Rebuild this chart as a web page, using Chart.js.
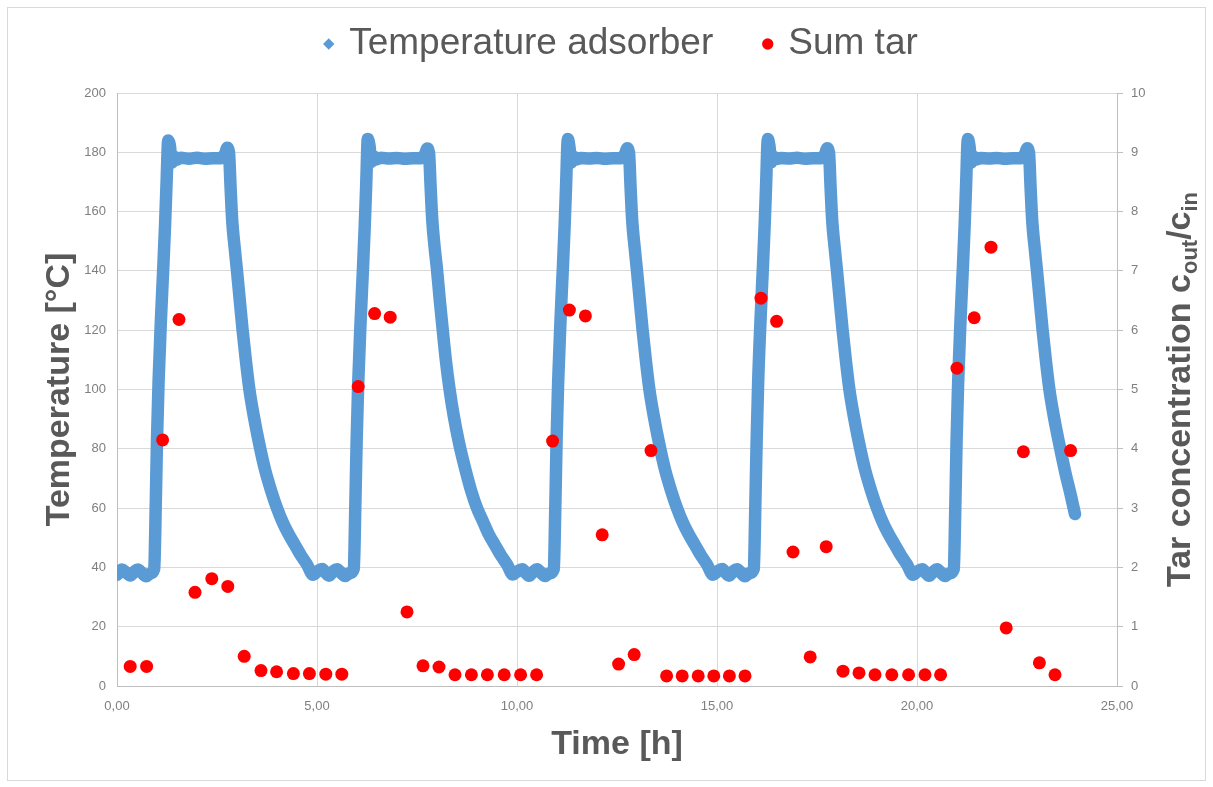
<!DOCTYPE html>
<html>
<head>
<meta charset="utf-8">
<script src="https://cdn.jsdelivr.net/npm/chart.js@4.4.1/dist/chart.umd.min.js"></script>
<style>
  html, body { margin: 0; padding: 0; background: #ffffff; }
  canvas { display: block; }
</style>
</head>
<body>
<canvas id="chart" width="1213" height="787"></canvas>
<script>
// ---------- DATA ----------
const xTickValues = [0, 5, 10, 15, 20, 25];

// Temperature adsorber [°C] as [time h, temperature]
const tempCycle1 = [[0.00,37.5],[0.12,39.3],[0.22,38.4],[0.33,37.3],[0.43,38.5],[0.52,39.3],[0.62,38.2],[0.73,37.0],[0.84,38.0],[0.93,39.5],[0.97,62],[1.00,83],[1.04,103],[1.10,124],[1.16,142],[1.20,155],[1.24,170],[1.28,184],[1.32,182.5],[1.37,176.5],[1.43,178.5],[1.50,177.5],[1.60,178.2],[1.80,177.8],[2.00,178.2],[2.20,177.8],[2.40,178.0],[2.60,178.0],[2.70,179.5],[2.76,181.5],[2.80,180.0],[2.84,168],[2.88,157],[2.94,148],[3.00,140],[3.07,130],[3.14,120],[3.22,110],[3.31,100],[3.42,91],[3.55,82],[3.70,73],[3.85,66],[4.00,60],[4.15,55],[4.30,51],[4.45,47.5],[4.60,44],[4.75,41],[4.90,37.5]];
const tempCycle2 = [[5.00,38.6],[5.13,39.5],[5.21,38.3],[5.30,37.2],[5.40,38.6],[5.50,39.4],[5.60,38.2],[5.70,37.1],[5.82,38.1],[5.92,39.6],[5.96,62],[5.99,82],[6.03,102],[6.09,123],[6.15,141],[6.19,154],[6.23,169],[6.27,184.5],[6.31,182.5],[6.36,176.8],[6.42,178.6],[6.49,177.6],[6.60,178.2],[6.80,177.9],[7.00,178.1],[7.20,177.8],[7.40,178.0],[7.60,178.0],[7.70,179.4],[7.76,181.3],[7.80,180.0],[7.84,168.5],[7.88,157.5],[7.94,148],[8.00,140.5],[8.07,130],[8.14,120.5],[8.22,110],[8.31,100.5],[8.42,91],[8.55,82],[8.70,73.5],[8.85,66],[9.00,60],[9.15,55.5],[9.30,51],[9.45,47.5],[9.60,44],[9.75,41],[9.90,37.6]];
const tempCycle3 = [[10.00,38.6],[10.13,39.4],[10.21,38.3],[10.30,37.2],[10.40,38.5],[10.50,39.4],[10.60,38.2],[10.70,37.1],[10.82,38.0],[10.92,39.5],[10.96,62],[10.99,83],[11.03,103],[11.09,124],[11.15,142],[11.19,155],[11.23,170],[11.27,184.5],[11.31,182],[11.36,176.6],[11.42,178.5],[11.49,177.6],[11.60,178.1],[11.80,177.9],[12.00,178.1],[12.20,177.8],[12.40,178.0],[12.60,178.0],[12.70,179.5],[12.76,181.4],[12.80,180.0],[12.84,168],[12.88,157],[12.94,148],[13.00,140],[13.07,130],[13.14,120],[13.22,110],[13.31,100],[13.42,91],[13.55,82],[13.70,73],[13.85,66],[14.00,60],[14.15,55],[14.30,51],[14.45,47.5],[14.60,44],[14.75,41],[14.90,37.5]];
const tempCycle4 = [[15.00,38.5],[15.13,39.5],[15.21,38.3],[15.30,37.2],[15.40,38.6],[15.50,39.4],[15.60,38.2],[15.70,37.0],[15.82,38.1],[15.92,39.5],[15.96,62],[15.99,82],[16.03,103],[16.09,124],[16.15,142],[16.19,155],[16.23,170],[16.27,184.5],[16.31,182.3],[16.36,176.7],[16.42,178.5],[16.49,177.7],[16.60,178.1],[16.80,177.9],[17.00,178.2],[17.20,177.8],[17.40,178.0],[17.60,178.0],[17.70,179.4],[17.76,181.4],[17.80,180.0],[17.84,168],[17.88,157],[17.94,148],[18.00,140],[18.07,130],[18.14,120],[18.22,110],[18.31,100],[18.42,91],[18.55,82],[18.70,73],[18.85,66],[19.00,60],[19.15,55],[19.30,51],[19.45,47.5],[19.60,44],[19.75,41],[19.90,37.5]];
const tempCycle5 = [[20.00,38.6],[20.13,39.4],[20.21,38.3],[20.30,37.2],[20.40,38.5],[20.50,39.4],[20.60,38.2],[20.70,37.1],[20.82,38.0],[20.92,39.5],[20.96,62],[20.99,83],[21.03,103],[21.09,124],[21.15,142],[21.19,155],[21.23,170],[21.27,184.5],[21.31,182.4],[21.36,176.6],[21.42,178.5],[21.49,177.6],[21.60,178.1],[21.80,177.9],[22.00,178.1],[22.20,177.8],[22.40,178.0],[22.60,178.0],[22.70,179.5],[22.76,181.4],[22.80,180.0],[22.84,168],[22.88,157],[22.94,148],[23.00,140],[23.07,130],[23.14,120],[23.22,110],[23.31,100],[23.42,91],[23.55,82],[23.70,72.5],[23.85,64],[23.95,58]];

// Sum tar, c_out/c_in (right axis)
const tarHours = [0.33,0.74,1.14,1.55,1.95,2.37,2.77,3.18,3.60,3.99,4.41,4.81,5.22,5.62,6.03,6.44,6.83,7.25,7.65,8.05,8.45,8.86,9.26,9.68,10.09,10.49,10.89,11.31,11.71,12.13,12.54,12.93,13.35,13.74,14.13,14.53,14.92,15.31,15.70,16.10,16.49,16.90,17.33,17.73,18.15,18.55,18.95,19.37,19.79,20.20,20.59,21.00,21.43,21.85,22.23,22.66,23.06,23.45,23.84];
const tarRatio = [0.33,0.33,4.15,6.18,1.58,1.81,1.68,0.50,0.26,0.24,0.21,0.21,0.20,0.20,5.05,6.28,6.22,1.25,0.34,0.32,0.19,0.19,0.19,0.19,0.19,0.19,4.13,6.34,6.24,2.55,0.37,0.53,3.97,0.17,0.17,0.17,0.17,0.17,0.17,6.54,6.15,2.26,0.49,2.35,0.25,0.22,0.19,0.19,0.19,0.19,0.19,5.36,6.21,7.40,0.98,3.95,0.39,0.19,3.97];

const seriesNames = ['Temperature adsorber', 'Sum tar'];
const axisTitles = { x: 'Time [h]', y: 'Temperature [°C]', y2Main: 'Tar concentration c', y2Sub1: 'out', y2Mid: '/c', y2Sub2: 'in' };

// ---------- BUILD ----------
const tempPoints = [].concat(tempCycle1, tempCycle2, tempCycle3, tempCycle4, tempCycle5).map(p => ({x: p[0], y: p[1]}));
const tarPoints = tarHours.map((h, i) => ({x: h, y: tarRatio[i]}));

const FONT = "'Liberation Sans', Arial, sans-serif";
const TEXT_DARK = '#595959';
const TICK_COL = '#7f7f7f';

const bgAndFrame = {
  id: 'bgAndFrame',
  beforeDraw(chart) {
    const c = chart.ctx;
    c.save();
    c.fillStyle = '#ffffff';
    c.fillRect(0, 0, chart.width, chart.height);
    c.strokeStyle = '#d9d9d9';
    c.lineWidth = 1;
    c.strokeRect(7.5, 7.5, 1198, 773);
    c.restore();
  }
};

const rightTitle = {
  id: 'rightTitle',
  afterDraw(chart) {
    const c = chart.ctx;
    const area = chart.chartArea;
    const cy = (area.top + area.bottom) / 2;
    const cx = 1178;
    const big = "bold 34px " + FONT;
    const small = "bold 22px " + FONT;
    c.save();
    c.fillStyle = TEXT_DARK;
    c.textBaseline = 'alphabetic';
    c.font = big;
    const w1 = c.measureText(axisTitles.y2Main).width;
    const w3 = c.measureText(axisTitles.y2Mid).width;
    c.font = small;
    const w2 = c.measureText(axisTitles.y2Sub1).width;
    const w4 = c.measureText(axisTitles.y2Sub2).width;
    const total = w1 + w2 + w3 + w4;
    c.translate(cx, cy);
    c.rotate(-Math.PI / 2);
    let x = -total / 2;
    const base = 12;
    c.font = big;
    c.fillText(axisTitles.y2Main, x, base); x += w1;
    c.font = small;
    c.fillText(axisTitles.y2Sub1, x, base + 7); x += w2;
    c.font = big;
    c.fillText(axisTitles.y2Mid, x, base); x += w3;
    c.font = small;
    c.fillText(axisTitles.y2Sub2, x, base + 7);
    c.restore();
  }
};

Chart.defaults.font.family = FONT;

new Chart(document.getElementById('chart'), {
  type: 'scatter',
  data: {
    datasets: [
      {
        label: seriesNames[0],
        data: tempPoints,
        yAxisID: 'y',
        showLine: true,
        borderColor: '#5B9BD5',
        backgroundColor: '#5B9BD5',
        borderWidth: 12.5,
        borderJoinStyle: 'round',
        borderCapStyle: 'round',
        pointRadius: 0,
        pointStyle: 'rectRot',
        cubicInterpolationMode: 'monotone',
        order: 2
      },
      {
        label: seriesNames[1],
        data: tarPoints,
        yAxisID: 'y2',
        showLine: false,
        backgroundColor: '#FF0000',
        borderColor: '#FF0000',
        borderWidth: 0,
        pointRadius: 6.5,
        pointStyle: 'circle',
        order: 1
      }
    ]
  },
  options: {
    responsive: false,
    animation: false,
    devicePixelRatio: 1,
    events: [],
    layout: { padding: { top: -27, left: 31.5, right: 0, bottom: 0 } },
    plugins: {
      tooltip: { enabled: false },
      title: { display: true, text: '', weight: 500, font: { size: 10 }, padding: { top: 4, bottom: 4.5 } },
      legend: {
        display: true,
        position: 'top',
        labels: {
          usePointStyle: true,
          boxWidth: 4,
          boxHeight: 8,
          padding: 52.5,
          color: TEXT_DARK,
          font: { size: 37, family: FONT },
          sort: (a, b) => a.datasetIndex - b.datasetIndex,
          generateLabels(chart) {
            const items = Chart.defaults.plugins.legend.labels.generateLabels(chart);
            items.forEach(it => { it.lineWidth = 0; it.strokeStyle = 'rgba(0,0,0,0)'; it.fontColor = TEXT_DARK; });
            return items;
          }
        }
      }
    },
    scales: {
      x: {
        type: 'linear',
        position: 'bottom',
        min: 0, max: 25,
        afterBuildTicks: s => { s.ticks = xTickValues.map(v => ({value: v})); },
        afterFit: s => { s.height = 101; },
        grid: { color: '#d9d9d9', drawTicks: false },
        border: { color: '#bfbfbf' },
        ticks: { padding: 13, color: TICK_COL, font: { size: 13 }, callback: v => v.toFixed(2).replace('.', ',') },
        title: { display: true, text: axisTitles.x, color: TEXT_DARK, font: { size: 34, weight: 'bold' }, padding: { top: 0, bottom: 21.6 } }
      },
      y: {
        type: 'linear',
        position: 'left',
        min: 0, max: 200,
        afterFit: s => { s.width = 85.5; },
        grid: { color: '#d9d9d9', drawTicks: false },
        border: { color: '#bfbfbf' },
        ticks: { stepSize: 20, padding: 11, color: TICK_COL, font: { size: 13 } },
        title: { display: true, text: axisTitles.y, color: TEXT_DARK, font: { size: 34, weight: 'bold' }, padding: { top: 8, bottom: 0 } }
      },
      y2: {
        type: 'linear',
        position: 'right',
        min: 0, max: 10,
        afterFit: s => { s.width = 96; },
        grid: { drawOnChartArea: false, drawTicks: true, tickLength: 6, color: '#bfbfbf' },
        border: { color: '#bfbfbf' },
        ticks: { stepSize: 1, padding: 8, color: TICK_COL, font: { size: 13 } }
      }
    }
  },
  plugins: [bgAndFrame, rightTitle]
});
</script>
</body>
</html>
